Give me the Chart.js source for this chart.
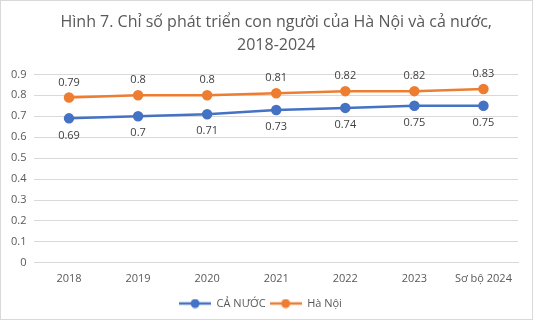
<!DOCTYPE html>
<html><head><meta charset="utf-8">
<script src="https://cdn.jsdelivr.net/npm/chart.js@4/dist/chart.umd.min.js"></script>
<style>
html,body{margin:0;padding:0;background:#fff;}
#wrap{position:relative;width:531px;height:318px;border:1px solid #d9d9d9;}
</style></head>
<body><div id="wrap"><canvas id="c"></canvas></div>
<script>
const categories = ["2018","2019","2020","2021","2022","2023","Sơ bộ 2024"];
const caNuoc = [0.69,0.7,0.71,0.73,0.74,0.75,0.75];
const haNoi = [0.79,0.8,0.8,0.81,0.82,0.82,0.83];
const seriesNames = ["CẢ NƯỚC","Hà Nội"];
const titleLines = ["Hình 7. Chỉ số phát triển con người của Hà Nội và cả nước,","2018-2024"];
const BLUE = "#4472C4", ORANGE = "#ED7D31";
const FONT = "'Open Sans', 'Noto Sans', sans-serif";

function legendIcon(color){
  const c = document.createElement('canvas');
  c.width = 32; c.height = 10;
  const x = c.getContext('2d');
  x.strokeStyle = color; x.lineWidth = 2.5;
  x.beginPath(); x.moveTo(0,5); x.lineTo(32,5); x.stroke();
  x.fillStyle = color; x.beginPath(); x.arc(16,5,4.5,0,Math.PI*2); x.fill();
  return c;
}

const dataLabels = {
  id:'dataLabels',
  afterDatasetsDraw(chart){
    const ctx = chart.ctx;
    ctx.save();
    ctx.font = "11px " + FONT;
    ctx.fillStyle = "#404040";
    ctx.textAlign = "center";
    ctx.textBaseline = "middle";
    chart.data.datasets.forEach((ds, i) => {
      const meta = chart.getDatasetMeta(i);
      meta.data.forEach((pt, j) => {
        const off = i === 0 ? 17 : -15;
        ctx.fillText(String(ds.data[j]), pt.x, pt.y + off);
      });
    });
    ctx.restore();
  }
};

new Chart(document.getElementById('c'), {
  type:'line',
  data:{
    labels: categories,
    datasets:[
      {label: seriesNames[0], data: caNuoc, borderColor: BLUE, backgroundColor: BLUE, borderWidth:2.5, pointRadius:4, pointHoverRadius:4, tension:0},
      {label: seriesNames[1], data: haNoi, borderColor: ORANGE, backgroundColor: ORANGE, borderWidth:2.5, pointRadius:4, pointHoverRadius:4, tension:0}
    ]
  },
  options:{
    responsive:true, maintainAspectRatio:false, animation:false,
    layout:{padding:{left:2,right:14,top:4,bottom:0}},
    plugins:{
      title:{display:true, fullSize:false, text:titleLines, color:"#595959", font:{family:FONT, size:16, weight:'normal', lineHeight:1.45}, padding:{top:6,bottom:17}},
      legend:{position:'bottom', labels:{
        color:"#595959", font:{family:FONT, size:11}, usePointStyle:true, pointStyleWidth:32, boxHeight:10, padding:4,
        generateLabels(chart){
          return chart.data.datasets.map((ds,i)=>({text:ds.label, pointStyle:legendIcon(ds.borderColor), fillStyle:ds.borderColor, strokeStyle:ds.borderColor, lineWidth:0, datasetIndex:i, fontColor:"#595959"}));
        }
      }},
      tooltip:{enabled:false}
    },
    scales:{
      x:{offset:true, grid:{display:false, drawTicks:false}, border:{color:"#d9d9d9"}, ticks:{color:"#595959", font:{family:FONT, size:11}, padding:9}},
      y:{min:0, max:0.9, ticks:{stepSize:0.1, color:"#595959", font:{family:FONT, size:11}, padding:8}, grid:{color:"#d9d9d9", drawTicks:false}, border:{display:false}}
    }
  },
  plugins:[dataLabels]
});
</script></body></html>
